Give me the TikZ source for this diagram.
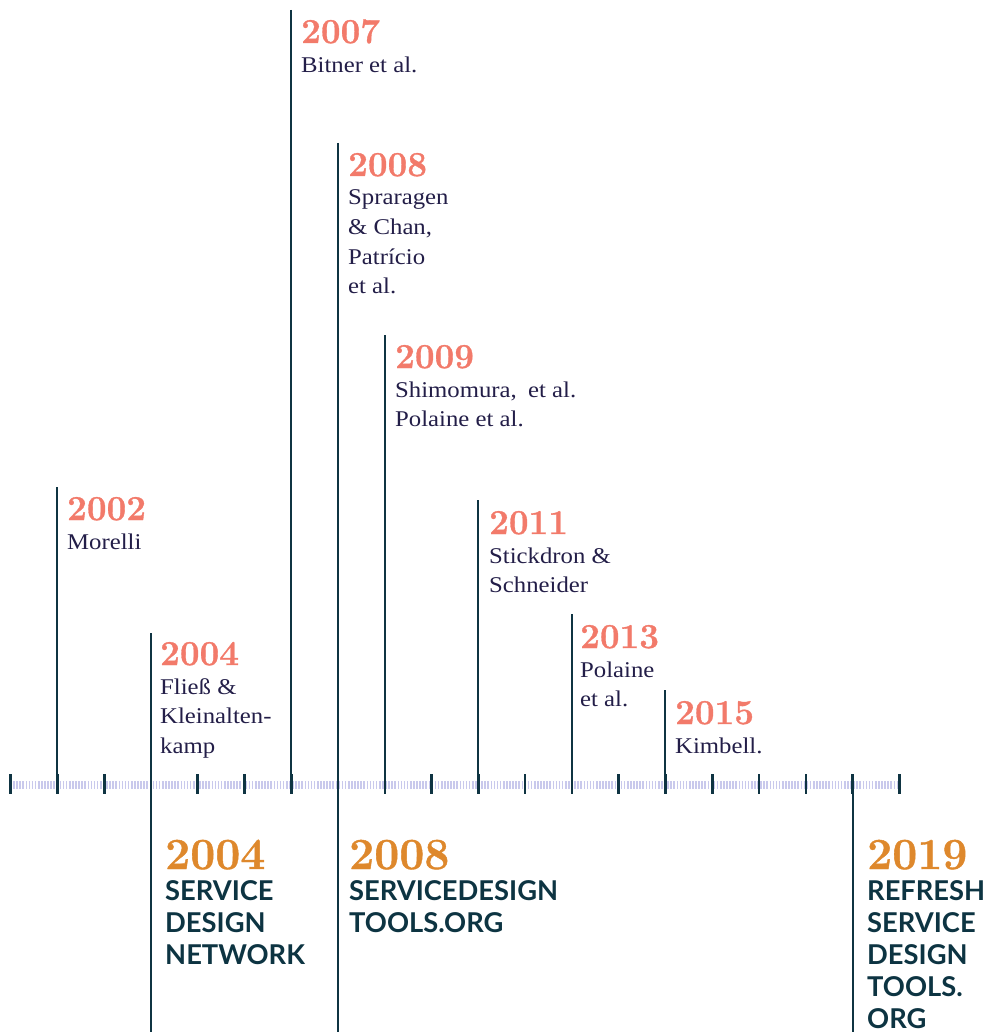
\documentclass[tikz,border=0pt]{standalone}
\usepackage{fontspec}
\setmainfont{Latin Modern Roman}
\newfontfamily\labsans{Lato}
\newfontfamily\bodyfont{Liberation Serif}[FakeStretch=1.1]
\newfontfamily\yearfont{Latin Modern Roman}[BoldFeatures={FakeBold=0.9}]
\definecolor{linecol}{RGB}{15,52,66}
\definecolor{salmon}{RGB}{242,122,106}
\definecolor{orangec}{RGB}{222,136,44}
\definecolor{bodycol}{RGB}{35,30,72}
\definecolor{sanscol}{RGB}{13,52,66}
\definecolor{hatchcol}{RGB}{201,201,236}
\tikzset{
  vline/.style={draw=linecol, line width=2.6pt},
  tickline/.style={draw=linecol, line width=2.6pt},
  hatch/.style={draw=hatchcol, line width=8pt, dash pattern=on 1.6pt off 1.5pt},
  yearsmall/.style={anchor=base west, inner sep=0pt, text=salmon, font=\yearfont\fontsize{35}{35}\selectfont\bfseries},
  bodytext/.style={anchor=base west, inner sep=0pt, text=bodycol, font=\bodyfont\fontsize{22.5}{29.5}\selectfont},
  yearbig/.style={anchor=base west, inner sep=0pt, text=orangec, font=\yearfont\fontsize{44.5}{44.5}\selectfont\bfseries},
  orgtext/.style={anchor=base west, inner sep=0pt, text=sanscol, font=\labsans\fontsize{27.3}{32.2}\selectfont\bfseries}
}
\begin{document}
\begin{tikzpicture}[x=1pt, y=-1pt]
\useasboundingbox (0,0) rectangle (991,1032);
% axis hatch
\coordinate (hs) at (10,785);
\coordinate (he) at (899,785);
\draw[hatch] (hs) -- (he);
% ticks
\foreach \i in {0,...,19}{
  \draw[tickline] (10.7+46.77*\i,774) -- (10.7+46.77*\i,794);
}
% vertical lines
\coordinate (t02) at (57,487);   \coordinate (e02) at (57,794);
\coordinate (t04) at (151,633);  \coordinate (e04) at (151,1032);
\coordinate (t07) at (291,10);   \coordinate (e07) at (291,794);
\coordinate (t08) at (338,143);  \coordinate (e08) at (338,1032);
\coordinate (t09) at (385,335);  \coordinate (e09) at (385,794);
\coordinate (t11) at (478,500);  \coordinate (e11) at (478,794);
\coordinate (t13) at (572,614);  \coordinate (e13) at (572,794);
\coordinate (t15) at (665,690);  \coordinate (e15) at (665,794);
\coordinate (t19) at (853,774);  \coordinate (e19) at (853,1032);
\foreach \n in {02,04,07,08,09,11,13,15,19}{
  \draw[vline] (t\n) -- (e\n);
}
% upper labels
\node[yearsmall] (y02) at (67,520) {2002};
\node[bodytext] (n02) at (67,549) {\begin{tabular}[t]{@{}l@{}}Morelli\end{tabular}};
\node[yearsmall] (y04) at (160,665) {2004};
\node[bodytext] (n04) at (160,694) {\begin{tabular}[t]{@{}l@{}}Fließ \&\\Kleinalten-\\kamp\end{tabular}};
\node[yearsmall] (y07) at (301,43) {2007};
\node[bodytext] (n07) at (301,73) {\begin{tabular}[t]{@{}l@{}}Bitner et al.\end{tabular}};
\node[yearsmall] (y08) at (348,176) {2008};
\node[bodytext] (n08) at (348,205) {\begin{tabular}[t]{@{}l@{}}Spraragen\\\& Chan,\\Patrício\\et al.\end{tabular}};
\node[yearsmall] (y09) at (395,368) {2009};
\node[bodytext] (n09) at (395,397) {\begin{tabular}[t]{@{}l@{}}Shimomura,\enspace et al.\\Polaine et al.\end{tabular}};
\node[yearsmall] (y11) at (489,534) {2011};
\node[bodytext] (n11) at (489,563) {\begin{tabular}[t]{@{}l@{}}Stickdron \&\\Schneider\end{tabular}};
\node[yearsmall] (y13) at (580,648) {2013};
\node[bodytext] (n13) at (580,677) {\begin{tabular}[t]{@{}l@{}}Polaine\\et al.\end{tabular}};
\node[yearsmall] (y15) at (675,724) {2015};
\node[bodytext] (n15) at (675,753) {\begin{tabular}[t]{@{}l@{}}Kimbell.\end{tabular}};
% lower labels
\node[yearbig] (b04) at (165,869) {2004};
\node[orgtext] (o04) at (165,900) {\begin{tabular}[t]{@{}l@{}}SERVICE\\DESIGN\\NETWORK\end{tabular}};
\node[yearbig] (b08) at (349,869) {2008};
\node[orgtext] (o08) at (349,900) {\begin{tabular}[t]{@{}l@{}}SERVICEDESIGN\\TOOLS.ORG\end{tabular}};
\node[yearbig] (b19) at (867,869) {2019};
\node[orgtext] (o19) at (867,900) {\begin{tabular}[t]{@{}l@{}}REFRESH\\SERVICE\\DESIGN\\TOOLS.\\ORG\end{tabular}};
\end{tikzpicture}
\end{document}
